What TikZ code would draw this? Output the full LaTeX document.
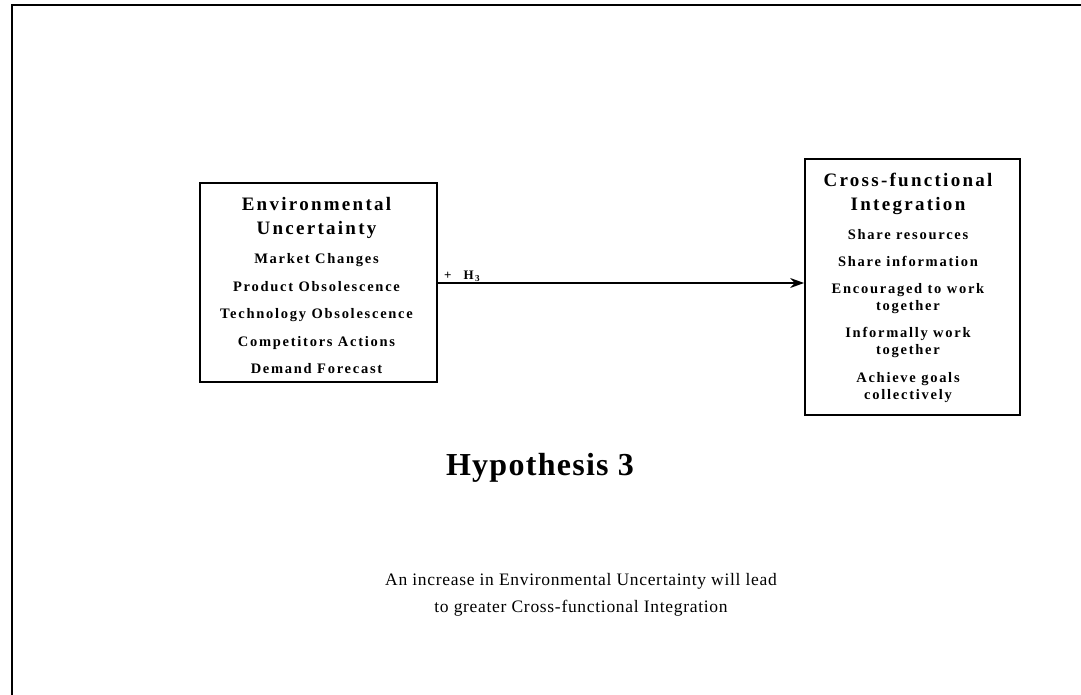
\documentclass[tikz,border=0pt]{standalone}
\usepackage{fontspec}
\setmainfont{Liberation Serif}
\newfontfamily\boxfont[LetterSpace=12]{Liberation Serif}
\newfontfamily\headfont[LetterSpace=4]{Liberation Serif}
\usetikzlibrary{arrows.meta}

\tikzset{
  frame/.style={line width=2pt, line cap=rect},
  varbox/.style={draw, line width=1.8pt, rectangle, inner sep=0pt},
  boxhead/.style={anchor=base, inner sep=0pt, font=\boxfont\bfseries\fontsize{19}{21}\selectfont},
  boxitem/.style={anchor=base, inner sep=0pt, font=\boxfont\bfseries\fontsize{14.5}{16}\selectfont},
  link/.style={line width=1.3pt, -{Stealth[length=14pt,width=10pt]}},
  linklabel/.style={anchor=base west, inner sep=0pt, font=\boxfont\bfseries\fontsize{13}{14}\selectfont},
  hyptitle/.style={anchor=base, inner sep=0pt, font=\headfont\bfseries\fontsize{32}{36}\selectfont},
  hyptext/.style={anchor=base, inner sep=0pt, font=\headfont\fontsize{17.5}{21}\selectfont},
}

\begin{document}
\begin{tikzpicture}[x=1pt, y=-1pt]
\useasboundingbox (0,0) rectangle (1081,695);

% page frame (left and top edges only)
\draw[frame] (12,695) -- (12,5) -- (1081,5);

% Environmental Uncertainty box
\node[varbox, minimum width=237pt, minimum height=199pt] (env) at (318.5,282.5) {};
\node[boxhead] (envh1) at (316.5,211) {Environmental};
\node[boxhead] (envh2) at (316.5,234) {Uncertainty};
\node[boxitem] (env1) at (316.5,263) {Market Changes};
\node[boxitem] (env2) at (316.5,291) {Product Obsolescence};
\node[boxitem] (env3) at (316.5,318) {Technology Obsolescence};
\node[boxitem] (env4) at (316.5,346) {Competitors Actions};
\node[boxitem] (env5) at (316.5,373) {Demand Forecast};

% Cross-functional Integration box
\node[varbox, minimum width=215pt, minimum height=256pt] (cfi) at (912.5,287) {};
\node[boxhead] (cfih1) at (908,187) {Cross-functional};
\node[boxhead] (cfih2) at (908,211) {Integration};
\node[boxitem] (cfi1) at (908,239) {Share resources};
\node[boxitem] (cfi2) at (908,266) {Share information};
\node[boxitem] (cfi3) at (908,293) {Encouraged to work};
\node[boxitem] (cfi3b) at (908,310) {together};
\node[boxitem] (cfi4) at (908,337) {Informally work};
\node[boxitem] (cfi4b) at (908,354) {together};
\node[boxitem] (cfi5) at (908,382) {Achieve goals};
\node[boxitem] (cfi5b) at (908,399) {collectively};

% hypothesised relationship
\draw[link] (env.east |- 0,283) -- (cfi.west |- 0,283);
\node[linklabel] (hlabel) at (444,279.5) {+\hspace{12pt}H\hspace{1.5pt}\textsubscript{3}};

% hypothesis statement
\node[hyptitle] (title) at (540,475) {Hypothesis 3};
\node[hyptext] (line1) at (581,585) {An increase in Environmental Uncertainty will lead};
\node[hyptext] (line2) at (581,612) {to greater Cross-functional Integration};
\end{tikzpicture}
\end{document}
